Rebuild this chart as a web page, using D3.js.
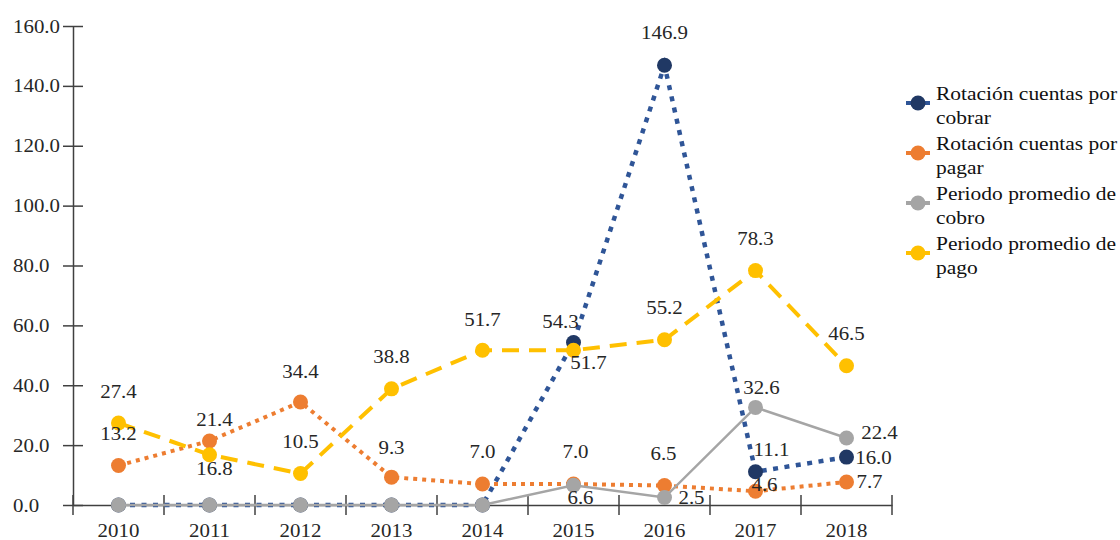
<!DOCTYPE html>
<html>
<head>
<meta charset="utf-8">
<script src="https://cdn.jsdelivr.net/npm/d3@7"></script>
<style>
  html, body { margin: 0; padding: 0; background: #fff; }
  svg { display: block; }
</style>
</head>
<body>
<svg id="chart" width="1120" height="540"></svg>
<script>
// Categories and tick labels
const years = ["2010", "2011", "2012", "2013", "2014", "2015", "2016", "2017", "2018"];
const yTicks = [0, 20, 40, 60, 80, 100, 120, 140, 160];

// Series values
const rotacionCobrar = [0, 0, 0, 0, 0, 54.3, 146.9, 11.1, 16.0];
const rotacionPagar  = [13.2, 21.4, 34.4, 9.3, 7.0, 7.0, 6.5, 4.6, 7.7];
const periodoCobro   = [0, 0, 0, 0, 0, 6.6, 2.5, 32.6, 22.4];
const periodoPago    = [27.4, 16.8, 10.5, 38.8, 51.7, 51.7, 55.2, 78.3, 46.5];

const seriesNames = [
  ["Rotación cuentas por", "cobrar"],
  ["Rotación cuentas por", "pagar"],
  ["Periodo promedio de", "cobro"],
  ["Periodo promedio de", "pago"]
];

// Where each value label sits relative to its point (centre offset, px)
const labelShift = [
  [null, null, null, null, null, [-13, -21], [0, -33], [16, -22], [27, 0]],
  [[0, -32], [5, -21], [0, -30], [0, -30], [0, -32], [2, -32], [-1, -32], [9, -7], [23, 0]],
  [null, null, null, null, null, [7, 12], [27, 0], [6, -20], [33, -5]],
  [[0, -31], [5, 14], [0, -32], [0, -32], [0, -31], [15, 12], [0, -32], [0, -32], [0, -32]]
];

const styles = [
  { line: "#2f5597", marker: "#203864", width: 4.5, dash: "5,6.5", cap: "butt" },
  { line: "#ed7d31", marker: "#ed7d31", width: 4,   dash: "4,5",   cap: "butt" },
  { line: "#a5a5a5", marker: "#a5a5a5", width: 2.5, dash: null,    cap: "butt" },
  { line: "#ffc000", marker: "#ffc000", width: 4,   dash: "17,10", cap: "butt" }
];

const allSeries = [rotacionCobrar, rotacionPagar, periodoCobro, periodoPago];

const FONT = "'Liberation Serif', 'Times New Roman', serif";
const svg = d3.select("#chart");
const fmt = d3.format(".1f");

// Text in this chart is set slightly wide: scale each label horizontally
function stretch(sel, k = 1.1) {
  sel.each(function () {
    const t = d3.select(this);
    const x = +t.attr("x") || 0;
    const y = +t.attr("y") || 0;
    t.attr("x", 0).attr("y", 0)
     .attr("transform", `translate(${x},${y}) scale(${k},1)`)
     .style("font-family", FONT)
     .style("font-size", "19px");
  });
}

const x = d3.scaleBand().domain(years).range([73, 892]).padding(0);
const y = d3.scaleLinear().domain([0, 160]).range([505, 26]);
const cx = d => x(d) + x.bandwidth() / 2;

// Y axis with ticks crossing the line
const yAxisG = svg.append("g")
  .attr("transform", "translate(73,0)")
  .call(d3.axisLeft(y).tickValues(yTicks).tickFormat(fmt).tickSize(10).tickSizeOuter(0));
yAxisG.attr("font-family", null);
yAxisG.select(".domain").attr("stroke", "#404040").attr("stroke-width", 1.5);
yAxisG.selectAll(".tick line").attr("x1", 10).attr("x2", -10).attr("stroke", "#404040").attr("stroke-width", 1.5);
yAxisG.selectAll(".tick text")
  .attr("x", -60).attr("text-anchor", "start").attr("fill", "#262626");
stretch(yAxisG.selectAll(".tick text"));

// X axis: labels at category centres, ticks at category boundaries
const xAxisG = svg.append("g")
  .attr("transform", "translate(0,505)")
  .call(d3.axisBottom(x).tickSize(0).tickSizeOuter(0));
xAxisG.attr("font-family", null);
xAxisG.select(".domain").attr("stroke", "#404040").attr("stroke-width", 1.5);
xAxisG.selectAll(".tick text")
  .attr("y", 32).attr("dy", 0).attr("fill", "#262626");
stretch(xAxisG.selectAll(".tick text"));
const bounds = years.map(d => x(d)).concat([x.range()[1]]);
xAxisG.selectAll(".bound").data(bounds).enter().append("line")
  .attr("class", "bound")
  .attr("x1", d => d).attr("x2", d => d)
  .attr("y1", -10).attr("y2", 10)
  .attr("stroke", "#404040").attr("stroke-width", 1.5);

// Lines and markers, series by series
const line = d3.line().x((d, i) => cx(years[i])).y(d => y(d));
allSeries.forEach((vals, s) => {
  const st = styles[s];
  const g = svg.append("g");
  g.append("path")
    .datum(vals)
    .attr("d", line)
    .attr("fill", "none")
    .attr("stroke", st.line)
    .attr("stroke-width", st.width)
    .attr("stroke-linecap", st.cap)
    .attr("stroke-dasharray", st.dash);
  g.selectAll("circle").data(vals).enter().append("circle")
    .attr("cx", (d, i) => cx(years[i]))
    .attr("cy", d => y(d))
    .attr("r", 7.5)
    .attr("fill", st.marker);
});

// Value labels
allSeries.forEach((vals, s) => {
  const g = svg.append("g");
  vals.forEach((v, i) => {
    const sh = labelShift[s][i];
    if (!sh) return;
    const t = g.append("text")
      .attr("x", cx(years[i]) + sh[0])
      .attr("y", y(v) + sh[1] + 6.4)
      .attr("text-anchor", "middle")
      .attr("fill", "#262626")
      .text(fmt(v));
    stretch(t);
  });
});

// Legend
const legend = svg.append("g");
seriesNames.forEach((lines, s) => {
  const st = styles[s];
  const base = 100 + s * 50;
  const g = legend.append("g");
  g.append("line")
    .attr("x1", 906).attr("x2", 930)
    .attr("y1", base + 3).attr("y2", base + 3)
    .attr("stroke", st.line).attr("stroke-width", 4);
  g.append("circle")
    .attr("cx", 918).attr("cy", base + 3).attr("r", 7.5)
    .attr("fill", st.marker);
  lines.forEach((txt, k) => {
    const t = g.append("text")
      .attr("x", 936).attr("y", base + k * 23.5)
      .attr("fill", "#111")
      .text(txt);
    stretch(t, 1.13);
  });
});
</script>
</body>
</html>
